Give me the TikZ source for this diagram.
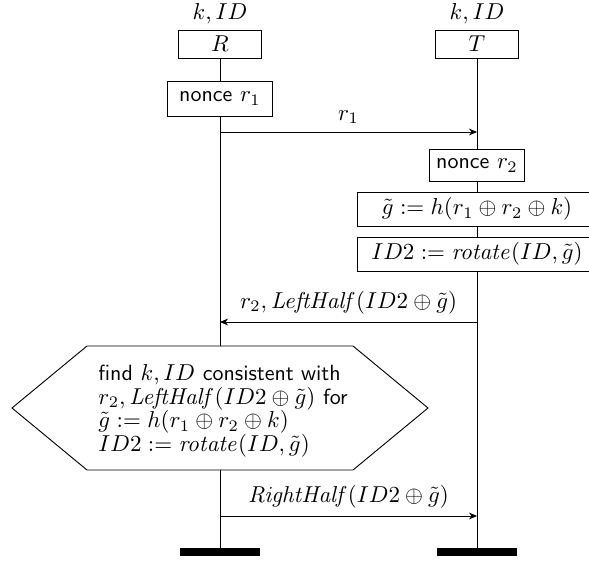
\documentclass[tikz,border=0pt]{standalone}
\usetikzlibrary{arrows.meta}
\newcommand{\sftxt}[1]{{\sffamily\fontsize{9.55}{10.2}\selectfont #1}}
\tikzset{
  inst/.style={draw,fill=white,minimum width=35.7pt,minimum height=12.2pt,inner sep=0pt},
  act/.style={draw,fill=white,inner sep=0pt},
  endbar/.style={fill=black,minimum width=35.2pt,minimum height=3.5pt,inner sep=0pt},
  msg/.style={-{Stealth[length=3.5pt,width=3pt]}}
}

\begin{document}
\begin{tikzpicture}[x=0.4348pt,y=-0.4348pt]
        \useasboundingbox (0,0) rectangle (589,561);

        % instances
        \node[anchor=base] (kR) at (220,20) {$k,ID$};
        \node[anchor=base] (kT) at (477,20) {$k,ID$};
        \node[inst] (R) at (220,44) {$R$};
        \node[inst] (T) at (477,44) {$T$};

        % actions
        \node[act,minimum width=45.7pt,minimum height=15.2pt] (nr1) at (220,98.5) {\sftxt{nonce} $r_1$};
        \node[act,minimum width=41.3pt,minimum height=14.3pt] (nr2) at (477,165.5) {\sftxt{nonce} $r_2$};
        \node[act,minimum width=104.3pt,minimum height=14.8pt] (gt) at (477,209) {$\tilde{g}:=h(r_1\oplus r_2\oplus k)$};
        \node[act,minimum width=104.3pt,minimum height=14.8pt] (idt) at (477,254) {$ID2:=\mathit{rotate}(ID,\tilde{g})$};

        % condition
        \draw (12,408) -- (87,346) -- (353,346) -- (428,408) -- (353,470) -- (87,470) -- cycle;
        \coordinate (hexN) at (220,346);
        \coordinate (hexS) at (220,470);
        \node[align=left,anchor=west,inner sep=0pt,font={\fontsize{10}{10.2}\selectfont}] (find) at (98,411)
        {\sftxt{find} $k,ID$ \sftxt{consistent with}\\
         $r_2,\mathit{LeftHalf}(ID2\oplus\tilde{g})$ \sftxt{for}\\
         $\tilde{g}:=h(r_1\oplus r_2\oplus k)$\\
         $ID2:=\mathit{rotate}(ID,\tilde{g})$};

        % ends
        \node[endbar] (Rend) at (220,552) {};
        \node[endbar] (Tend) at (477,552) {};

        % lifelines
        \draw (R) -- (nr1);
        \draw (nr1) -- (hexN);
        \draw (hexS) -- (Rend);
        \draw (T) -- (nr2);
        \draw (nr2) -- (gt);
        \draw (gt) -- (idt);
        \draw (idt) -- (Tend);

        % messages
        \coordinate (m1a) at (220,132);
        \coordinate (m1b) at (477,132);
        \coordinate (m2a) at (477,322);
        \coordinate (m2b) at (220,322);
        \coordinate (m3a) at (220,516);
        \coordinate (m3b) at (477,516);
        \draw[msg] (m1a) -- node[above] {$r_1$} (m1b);
        \draw[msg] (m2a) -- node[above] {$r_2,\mathit{LeftHalf}(ID2\oplus\tilde{g})$} (m2b);
        \draw[msg] (m3a) -- node[above] {$\mathit{RightHalf}(ID2\oplus\tilde{g})$} (m3b);
\end{tikzpicture}
\end{document}
